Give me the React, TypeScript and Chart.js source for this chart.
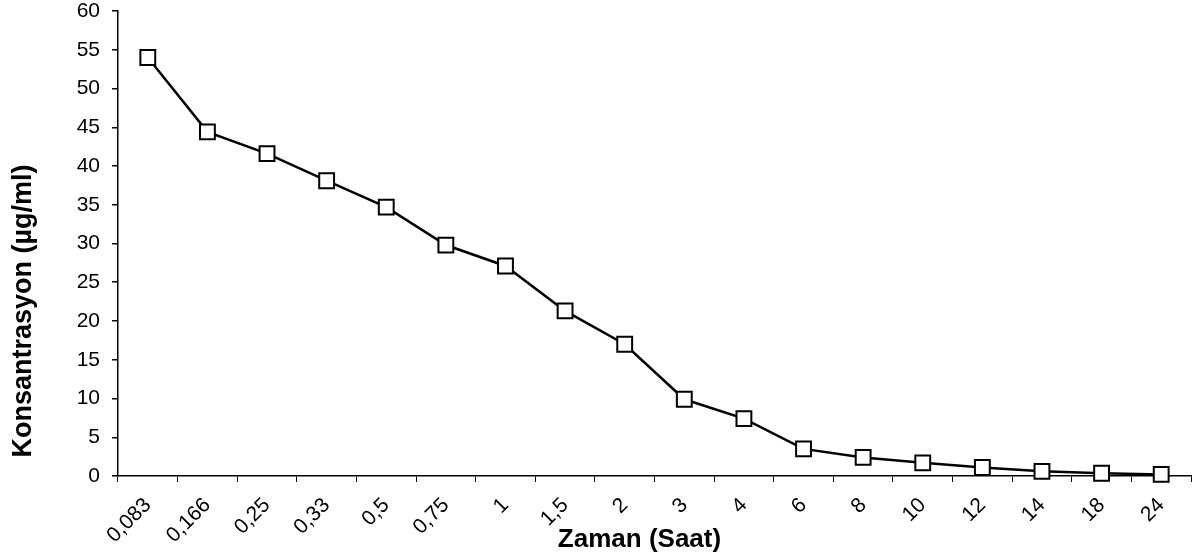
import React, { useEffect, useRef } from "react";
import { Chart, registerables } from "chart.js";

Chart.register(...registerables);

const categories = ["0,083", "0,166", "0,25", "0,33", "0,5", "0,75", "1", "1,5", "2", "3", "4", "6", "8", "10", "12", "14", "18", "24"];
const concentration = [54, 44.4, 41.6, 38.1, 34.7, 29.8, 27.1, 21.3, 17.0, 9.9, 7.4, 3.5, 2.4, 1.7, 1.1, 0.6, 0.35, 0.2];
const yTicksMin = 0;
const yTicksMax = 60;
const yStep = 5;
const xTitle = "Zaman (Saat)";
const yTitle = "Konsantrasyon (µg/ml)";

const FONT = "'Liberation Sans', Arial, Helvetica, sans-serif";

const titlesPlugin = {
  id: "axisTitles",
  afterDraw(chart: any) {
    const { ctx, chartArea } = chart;
    ctx.save();
    ctx.fillStyle = "#000";
    ctx.textAlign = "center";
    ctx.textBaseline = "middle";
    ctx.font = `bold 26px ${FONT}`;
    ctx.fillText(xTitle, (chartArea.left + chartArea.right) / 2 - 15, 540);
    ctx.font = `bold 27px ${FONT}`;
    ctx.translate(24, chartArea.bottom - 165);
    ctx.rotate(-Math.PI / 2);
    ctx.fillText(yTitle, 0, 0);
    ctx.restore();
  },
};

export default function App() {
  const ref = useRef<HTMLCanvasElement | null>(null);
  useEffect(() => {
    if (!ref.current) return;
    const chart = new Chart(ref.current, {
      type: "line",
      data: {
        labels: categories,
        datasets: [
          {
            data: concentration,
            borderColor: "#000",
            borderWidth: 2.5,
            tension: 0,
            clip: false,
            pointStyle: "rect",
            pointRadius: 10.5,
            pointHoverRadius: 10.5,
            pointBorderWidth: 2,
            pointBorderColor: "#000",
            pointBackgroundColor: "#fff",
          },
        ],
      },
      options: {
        animation: false,
        responsive: false,
        maintainAspectRatio: false,
        layout: { autoPadding: false, padding: { left: 0, right: 7, top: 11, bottom: 0 } },
        plugins: { legend: { display: false }, tooltip: { enabled: false }, title: { display: false } },
        scales: {
          x: {
            type: "category",
            offset: true,
            grid: { display: true, offset: true, drawOnChartArea: false, drawTicks: true, tickLength: 6, color: "#000", lineWidth: 1 },
            border: { display: true, color: "#000", width: 1.5 },
            ticks: {
              autoSkip: false,
              maxRotation: 45,
              minRotation: 45,
              padding: 11,
              color: "#000",
              font: { family: FONT, size: 21 },
            },
            afterFit(scale: any) {
              scale.height = 84;
              scale.paddingLeft = 0;
              scale.paddingRight = 0;
            },
          },
          y: {
            min: yTicksMin,
            max: yTicksMax,
            grid: { display: true, drawOnChartArea: false, drawTicks: true, tickLength: 6, color: "#000", lineWidth: 1.5 },
            border: { display: true, color: "#000", width: 1.5 },
            ticks: {
              stepSize: yStep,
              padding: 12,
              color: "#000",
              font: { family: FONT, size: 21 },
            },
            afterFit(scale: any) {
              scale.width = 118;
              scale.paddingTop = 0;
              scale.paddingBottom = 0;
            },
          },
        },
      },
      plugins: [titlesPlugin],
    });
    return () => chart.destroy();
  }, []);
  return (
    <div style={{ position: "fixed", left: 0, top: 0, width: 1198, height: 560, background: "#fff" }}>
      <canvas ref={ref} width={1198} height={560} style={{ width: 1198, height: 560, display: "block" }} />
    </div>
  );
}
